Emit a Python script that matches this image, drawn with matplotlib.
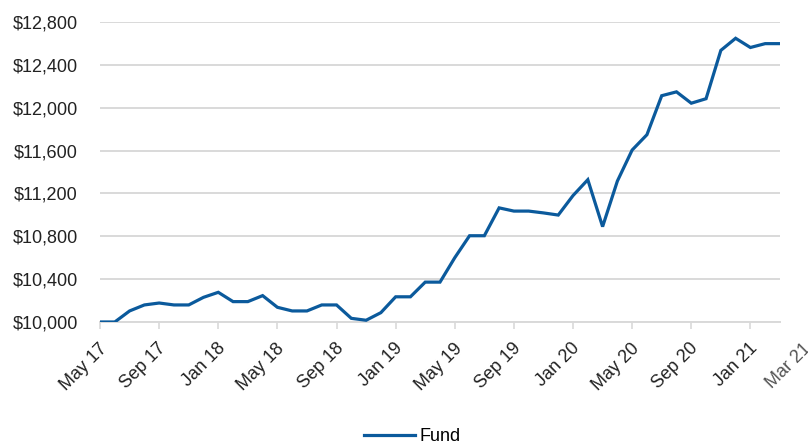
import matplotlib
matplotlib.use("Agg")
import matplotlib.pyplot as plt
from matplotlib.ticker import FuncFormatter

# monthly growth of $10,000, May 2017 .. Mar 2021
months = ["May 17", "Jun 17", "Jul 17", "Aug 17", "Sep 17", "Oct 17", "Nov 17", "Dec 17",
          "Jan 18", "Feb 18", "Mar 18", "Apr 18", "May 18", "Jun 18", "Jul 18", "Aug 18",
          "Sep 18", "Oct 18", "Nov 18", "Dec 18", "Jan 19", "Feb 19", "Mar 19", "Apr 19",
          "May 19", "Jun 19", "Jul 19", "Aug 19", "Sep 19", "Oct 19", "Nov 19", "Dec 19",
          "Jan 20", "Feb 20", "Mar 20", "Apr 20", "May 20", "Jun 20", "Jul 20", "Aug 20",
          "Sep 20", "Oct 20", "Nov 20", "Dec 20", "Jan 21", "Feb 21", "Mar 21"]
fund = [10000, 10000, 10103, 10159, 10177, 10159, 10159, 10230,
        10277, 10190, 10190, 10246, 10137, 10103, 10103, 10159,
        10159, 10034, 10016, 10087, 10235, 10235, 10372, 10372,
        10600, 10805, 10805, 11065, 11035, 11035, 11018, 10998,
        11180, 11328, 10890, 11315, 11605, 11748, 12112, 12148,
        12042, 12084, 12535, 12648, 12562, 12598, 12598]
tick_labels = ["May 17", "Sep 17", "Jan 18", "May 18", "Sep 18", "Jan 19", "May 19",
               "Sep 19", "Jan 20", "May 20", "Sep 20", "Jan 21"]
yticks = list(range(10000, 12801, 400))

plt.rcParams["font.family"] = ["Liberation Sans", "DejaVu Sans"]
FS = 13

fig = plt.figure(figsize=(8.08, 4.48), dpi=100)
ax = fig.add_axes([0.1238, 0.2813, 0.8415, 0.6696])
x = list(range(len(months)))
ax.plot(x, fund, color="#0b5a9c", lw=2.3, solid_joinstyle="miter", label="Fund", zorder=3)

ax.set_xlim(0, len(months) - 1)
ax.set_ylim(10000, 12800)
ax.set_yticks(yticks)
ax.yaxis.set_major_formatter(FuncFormatter(lambda v, p: f"${v:,.0f}"))
ax.grid(axis="y", color="#d9d9d9", lw=1.4)
ax.set_axisbelow(True)

tick_pos = [months.index(m) for m in tick_labels]
ax.set_xticks(tick_pos)
ax.set_xticklabels([])
ax.tick_params(axis="x", length=5, width=1.2, color="#d9d9d9", direction="out")
for p, lab in zip(tick_pos, tick_labels):
    ax.text(p - 0.1, -0.06, lab, transform=ax.get_xaxis_transform(), rotation=45,
            ha="right", va="top", rotation_mode="anchor", fontsize=FS, color="#222222")
# last label sits past the end of the axis, partly cut by the image edge
ax.text(len(months) + 0.5, -0.06, months[-1], transform=ax.get_xaxis_transform(),
        rotation=45, ha="right", va="top", rotation_mode="anchor", fontsize=FS,
        color="#555555", clip_on=False)

ax.tick_params(axis="y", length=0, labelsize=FS, labelcolor="#222222", pad=16)
for s in ["left", "right", "top"]:
    ax.spines[s].set_visible(False)
ax.spines["bottom"].set_color("#d9d9d9")
ax.spines["bottom"].set_linewidth(1.4)

fig.legend(loc="center", bbox_to_anchor=(0.51, 0.026), frameon=False, fontsize=FS,
           handlelength=2.8, handletextpad=0.25)

fig.savefig("out.png", dpi=100, facecolor="white")
